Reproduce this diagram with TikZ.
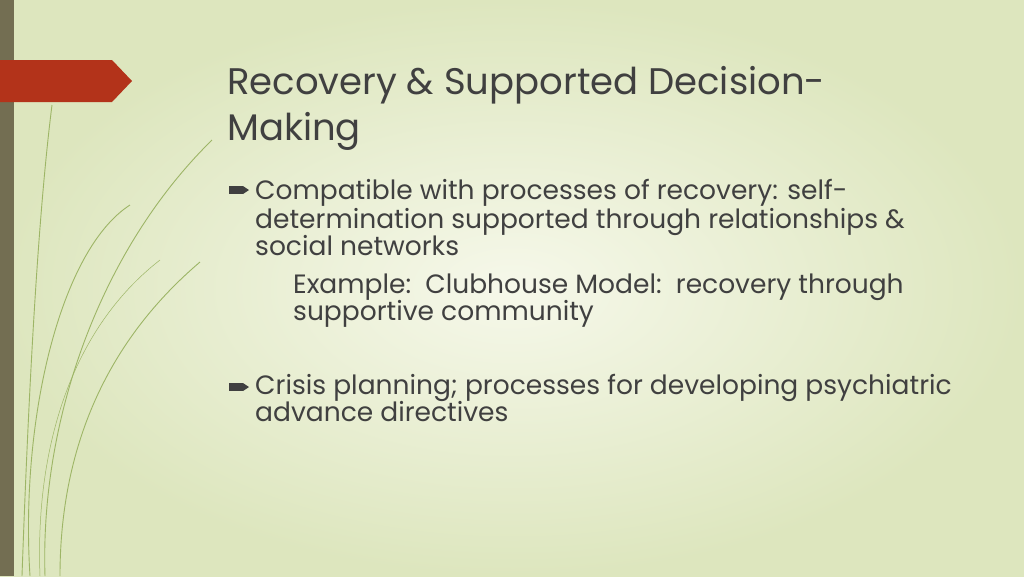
\documentclass[tikz,border=0pt]{standalone}
\usepackage{fontspec}
\setmainfont{Poppins}
\definecolor{bgA}{HTML}{F6F8EA}
\definecolor{bgB}{HTML}{DDE6BE}
\definecolor{barc}{HTML}{736E52}
\definecolor{redc}{HTML}{B3331A}
\definecolor{txt}{HTML}{404040}
\definecolor{grass}{HTML}{9DB566}
\tikzset{
  title/.style={anchor=base west,font=\fontsize{37}{37}\selectfont,text=txt,inner sep=0},
  body/.style={anchor=base west,font=\fontsize{26.5}{26.5}\selectfont,text=txt,inner sep=0},
  blade/.style={draw=grass,line width=0.9pt}
}
\begin{document}
\begin{tikzpicture}[x=1pt,y=-1pt]
\useasboundingbox (0,0) rectangle (1024,576);
\shade[inner color=bgA,outer color=bgB] (0,0) rectangle (1024,576);
% grass
\draw[blade] (22,576) .. controls (30,350) and (40,200) .. (52,105);
\draw[blade] (30,576) .. controls (20,420) and (60,250) .. (130,205);
\draw[blade] (45,576) .. controls (40,420) and (100,250) .. (212,140);
\draw[blade] (60,576) .. controls (60,430) and (120,330) .. (200,262);
\draw[blade,line width=0.5pt] (40,576) .. controls (35,450) and (70,330) .. (160,260);
% bar and arrow
\fill[barc] (0,0) rectangle (14,576);
\fill[redc] (0,60) -- (112,60) -- (132,81) -- (112,102) -- (0,102) -- cycle;
% title
\node[title] (t1) at (227,94) {Recovery \& Supported Decision-};
\node[title] (t2) at (227,140) {Making};
% bullets
\fill[txt] (229,186) rectangle (243,194);
\fill[txt] (243,186) -- (249,190) -- (243,194) -- cycle;
\fill[txt] (229,383) rectangle (243,391);
\fill[txt] (243,383) -- (249,387) -- (243,391) -- cycle;
\node[body] (b1) at (255,199) {Compatible with processes of recovery: self-};
\node[body] (b2) at (255,228) {determination supported through relationships \&};
\node[body] (b3) at (255,255) {social networks};
\node[body] (s1) at (293,293) {Example:\ \ Clubhouse Model:\ \ recovery through};
\node[body] (s2) at (293,320) {supportive community};
\node[body] (c1) at (255,394) {Crisis planning; processes for developing psychiatric};
\node[body] (c2) at (255,421) {advance directives};
\end{tikzpicture}
\end{document}
